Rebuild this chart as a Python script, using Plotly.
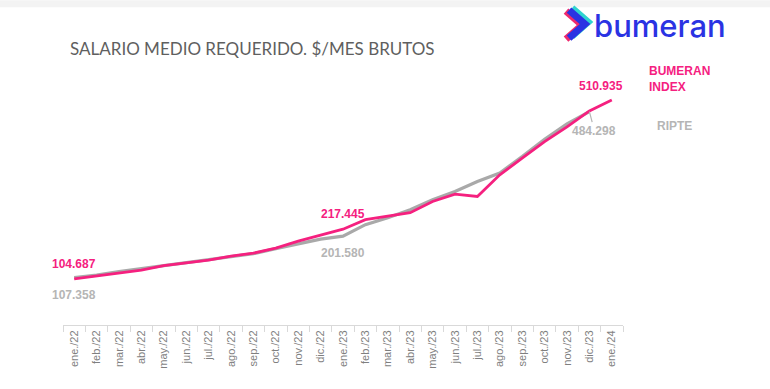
import plotly.graph_objects as go

months = ["ene./22", "feb./22", "mar./22", "abr./22", "may./22", "jun./22", "jul./22",
          "ago./22", "sep./22", "oct./22", "nov./22", "dic./22", "ene./23", "feb./23",
          "mar./23", "abr./23", "may./23", "jun./23", "jul./23", "ago./23", "sep./23",
          "oct./23", "nov./23", "dic./23", "ene./24"]

bumeran_index = [104.687, 111, 117.8, 124.6, 134.8, 141.6, 147.3, 156.3, 163.1, 174.4,
                 190.3, 203.9, 217.445, 239, 247, 254.9, 280.5, 297.2, 291.8, 341,
                 378.8, 416.4, 449.7, 486, 510.935]

ripte = [107.358, 113.3, 121.2, 128, 133.7, 140.5, 147.3, 154, 162, 173.3,
         184.6, 194.8, 201.58, 227.7, 243.5, 261.7, 284.3, 303.1, 325.8, 344.8,
         382.4, 421.8, 456.5, 484.298, None]

PINK = "#f5207f"
GRAY = "#a9a9a9"
LGRAY = "#b5b5b5"

# plot area geometry in pixels
L, R, T, B = 63, 623, 80, 325.5
W, H = 770, 389


def px(x):
    return (x - L) / (R - L)


def py(y):
    return (B - y) / (B - T)


fig = go.Figure()
fig.add_trace(go.Scatter(x=months, y=ripte, mode="lines",
                         line=dict(color=GRAY, width=3.2), hoverinfo="skip"))
fig.add_trace(go.Scatter(x=months, y=bumeran_index, mode="lines",
                         line=dict(color=PINK, width=2.8), hoverinfo="skip"))

lab_font = dict(family="Liberation Sans, Arial", size=12)

ann = []
# start labels
ann.append(dict(x=months[0], y=bumeran_index[0], text="<b>%.3f</b>" % bumeran_index[0],
                yshift=15, showarrow=False, font=dict(color=PINK, **lab_font)))
ann.append(dict(x=months[0], y=ripte[0], text="<b>%.3f</b>" % ripte[0],
                yshift=-17, showarrow=False, font=dict(color=LGRAY, **lab_font)))
# ene/23 labels
ann.append(dict(x=months[12], y=bumeran_index[12], text="<b>%.3f</b>" % bumeran_index[12],
                yshift=15, showarrow=False, font=dict(color=PINK, **lab_font)))
ann.append(dict(x=months[12], y=ripte[12], text="<b>%.3f</b>" % ripte[12],
                yshift=-17, showarrow=False, font=dict(color=LGRAY, **lab_font)))
# end labels
ann.append(dict(x=months[24], y=bumeran_index[24], text="<b>%.3f</b>" % bumeran_index[24],
                xshift=-11, yshift=14, showarrow=False, font=dict(color=PINK, **lab_font)))
ann.append(dict(x=months[23], y=ripte[23], text="<b>%.3f</b>" % ripte[23],
                ax=5, ay=19, showarrow=True, arrowhead=0, arrowwidth=1.2,
                arrowcolor=LGRAY, xanchor="center", yanchor="middle",
                font=dict(color=LGRAY, **lab_font)))
# series names
ann.append(dict(xref="paper", yref="paper", x=px(647), y=py(62), xanchor="left",
                yanchor="top", align="left", showarrow=False,
                text="<b>BUMERAN<br>INDEX</b>", font=dict(color=PINK, **lab_font)))
ann.append(dict(xref="paper", yref="paper", x=px(655), y=py(117), xanchor="left",
                yanchor="top", align="left", showarrow=False,
                text="<b>RIPTE</b>", font=dict(color=LGRAY, **lab_font)))
# title
ann.append(dict(xref="paper", yref="paper", x=px(68), y=py(48), xanchor="left",
                yanchor="middle", showarrow=False,
                text="SALARIO MEDIO REQUERIDO. $/MES BRUTOS",
                font=dict(family="Lato", size=17, color="#5f5f5f")))
# logo text
ann.append(dict(xref="paper", yref="paper", x=px(592), y=py(25), xanchor="left",
                yanchor="middle", showarrow=False, text="bumeran",
                font=dict(family="Inter", size=31, color="#2a33e3", weight=500)))

shapes = []
# top light band
shapes.append(dict(type="rect", xref="paper", yref="paper", x0=px(0), x1=px(W),
                   y0=py(0), y1=py(7), line=dict(width=0), fillcolor="#f3f3f3",
                   layer="below"))


def chevron(dx, dy, color, width):
    pts = [(569 + dx, 10 + dy), (585 + dx, 24 + dy), (569 + dx, 38 + dy)]
    path = "M %f %f L %f %f L %f %f" % (px(pts[0][0]), py(pts[0][1]),
                                         px(pts[1][0]), py(pts[1][1]),
                                         px(pts[2][0]), py(pts[2][1]))
    return dict(type="path", xref="paper", yref="paper", path=path,
                line=dict(color=color, width=width))


shapes.append(chevron(3, -2, "#2fd3d0", 7))
shapes.append(chevron(-3, 1, "#ee2a6e", 7))
shapes.append(chevron(0, 0, "#2a33e3", 7))

fig.update_layout(
    width=W, height=H,
    margin=dict(l=L, r=W - R, t=T, b=H - B),
    paper_bgcolor="white", plot_bgcolor="white",
    showlegend=False,
    annotations=ann,
    shapes=shapes,
    xaxis=dict(type="category", categoryorder="array", categoryarray=months,
               range=[-0.5, len(months) - 0.5], showgrid=False, zeroline=False,
               showline=True, linecolor="#d9d9d9", linewidth=1,
               ticks="outside", tickson="boundaries", ticklen=6, tickcolor="#d9d9d9",
               tickangle=-90, tickfont=dict(family="Liberation Sans, Arial", size=11,
                                            color="#7f7f7f")),
    yaxis=dict(range=[0, (B - T) / 0.4414], showgrid=False, zeroline=False,
               showticklabels=False, showline=False),
)

fig.write_html("out.html", config={"displayModeBar": False},
               post_script="document.body.style.margin='0';document.body.style.overflow='hidden';")
